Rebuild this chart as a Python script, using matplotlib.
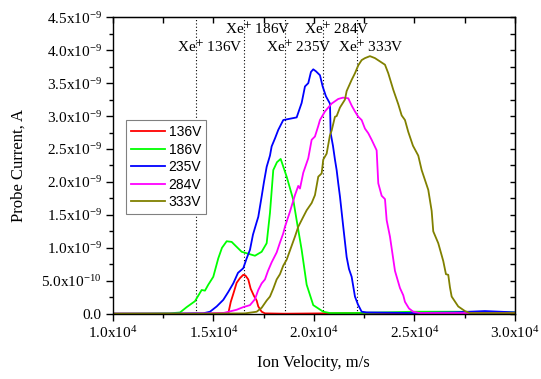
import numpy as np
import matplotlib
matplotlib.use("Agg")
import matplotlib.pyplot as plt

# Ion velocity (m/s) vs probe current (units of 1e-9 A)
v136 = [10000, 13000, 15000, 15750, 15870, 15994, 16163, 16327, 16491, 16600, 16739,
        16858, 17022, 17157, 17236, 17405, 17569, 18500, 20500, 21500, 22500, 23500, 30000]
i136 = [0, 0, 0.002, 0.01, 0.18, 0.30, 0.47, 0.54, 0.59, 0.58, 0.52,
        0.38, 0.27, 0.20, 0.11, 0.03, 0.005, 0, 0.005, 0.01, 0.01, 0, 0]

v186 = [10000, 11854, 12848, 13345, 13678, 14090, 14423, 14587, 14751, 15000, 15248,
        15432, 15666, 15914, 16078, 16411, 16739, 17072, 17405, 17654, 17818, 17982,
        18166, 18350, 18648, 18976, 19160, 19393, 19642, 19970, 20467, 20800, 22000,
        25000, 27000, 30000]
i186 = [0, 0.003, 0.006, 0.018, 0.10, 0.19, 0.36, 0.35, 0.44, 0.56, 0.84,
        1.00, 1.10, 1.09, 1.04, 0.94, 0.91, 0.88, 0.94, 1.07, 1.53, 2.18,
        2.30, 2.35, 2.08, 1.73, 1.39, 0.97, 0.44, 0.13, 0.03, 0.01, 0.01,
        0.03, 0.03, 0.02]

v235 = [10000, 13000, 14006, 14503, 14836, 15169, 15497, 15745, 15994, 16228, 16491,
        16660, 16824, 16973, 17157, 17237, 17405, 17520, 17654, 17818, 17902, 18066,
        18230, 18479, 18812, 19145, 19393, 19558, 19722, 19855, 19970, 20104, 20303,
        20437, 20601, 20800, 20835, 20949, 21048, 21133, 21212, 21297, 21461, 21630,
        21745, 21879, 22043, 22192, 22376, 22624, 25000, 27000, 28500, 30000]
i235 = [0, 0, 0.005, 0.006, 0.03, 0.11, 0.21, 0.33, 0.46, 0.62, 0.69,
        0.84, 0.97, 1.20, 1.39, 1.47, 1.78, 2.00, 2.23, 2.40, 2.54, 2.66,
        2.79, 2.94, 2.96, 2.98, 3.20, 3.45, 3.50, 3.67, 3.71, 3.68, 3.62,
        3.45, 3.30, 3.19, 2.74, 2.55, 2.34, 2.18, 1.98, 1.78, 1.32, 0.86,
        0.68, 0.56, 0.26, 0.14, 0.03, 0.02, 0.01, 0.02, 0.04, 0.02]

v284 = [10000, 14000, 15500, 16163, 16491, 16824, 17072, 17237, 17405, 17569, 17720,
        17902, 18151, 18315, 18479, 18564, 18812, 19060, 19224, 19309, 19473, 19722,
        19890, 20054, 20219, 20303, 20551, 20884, 21212, 21446, 21710, 21879, 22043,
        22207, 22376, 22540, 22704, 22873, 23121, 23202, 23371, 23535, 23619, 23783,
        24032, 24280, 24444, 24528, 24727, 24940, 25273, 30000]
i284 = [0, 0, 0.01, 0.06, 0.10, 0.13, 0.22, 0.36, 0.46, 0.52, 0.65,
        0.78, 0.93, 1.08, 1.22, 1.32, 1.55, 1.80, 1.94, 1.90, 2.14, 2.36,
        2.64, 2.69, 2.85, 2.94, 3.07, 3.19, 3.26, 3.28, 3.27, 3.16, 3.07,
        2.99, 2.94, 2.81, 2.74, 2.64, 2.48, 1.98, 1.79, 1.74, 1.42, 1.17,
        0.65, 0.39, 0.28, 0.18, 0.08, 0.03, 0.01, 0.01]

v333 = [10000, 14000, 16575, 17157, 17405, 17654, 17818, 17982, 18151, 18315, 18479,
        18648, 18812, 19060, 19224, 19473, 19642, 19890, 20054, 20219, 20388, 20467,
        20636, 20800, 20884, 21048, 21133, 21297, 21545, 21630, 21879, 22043, 22207,
        22376, 22540, 22788, 23037, 23286, 23535, 23699, 23947, 24196, 24365, 24529,
        24693, 24926, 25190, 25359, 25523, 25687, 25856, 25935, 26184, 26432, 26566,
        26681, 26765, 26850, 27177, 27510, 27759, 30000]
i333 = [0, 0, 0.005, 0.03, 0.09, 0.20, 0.26, 0.38, 0.52, 0.60, 0.73,
        0.82, 0.96, 1.17, 1.32, 1.47, 1.57, 1.68, 1.80, 2.08, 2.13, 2.34,
        2.43, 2.71, 2.78, 2.99, 3.00, 3.13, 3.25, 3.38, 3.55, 3.65, 3.77,
        3.85, 3.88, 3.91, 3.88, 3.83, 3.78, 3.65, 3.40, 3.18, 3.01, 2.94,
        2.76, 2.55, 2.40, 2.18, 2.03, 1.88, 1.56, 1.25, 1.07, 0.80, 0.60,
        0.59, 0.40, 0.26, 0.11, 0.04, 0.01, 0.01]

series_labels = ["136V", "186V", "235V", "284V", "333V"]
series_colors = ["#ff0000", "#00ff00", "#0000ff", "#ff00ff", "#808000"]

# Xe+ velocity for each beam voltage (dotted markers)
marker_velocity = [14140, 16540, 18590, 20430, 22120]
marker_row = [0, 1, 0, 1, 0]          # 0 = lower label row, 1 = upper

xticks = [10000, 15000, 20000, 25000, 30000]
xtick_labels = [r"$\mathregular{1.0x10^{4}}$", r"$\mathregular{1.5x10^{4}}$",
                r"$\mathregular{2.0x10^{4}}$", r"$\mathregular{2.5x10^{4}}$",
                r"$\mathregular{3.0x10^{4}}$"]
yticks = [0, 0.5, 1.0, 1.5, 2.0, 2.5, 3.0, 3.5, 4.0, 4.5]
ytick_labels = ["0.0", r"$\mathregular{5.0x10^{-10}}$", r"$\mathregular{1.0x10^{-9}}$",
                r"$\mathregular{1.5x10^{-9}}$", r"$\mathregular{2.0x10^{-9}}$",
                r"$\mathregular{2.5x10^{-9}}$", r"$\mathregular{3.0x10^{-9}}$",
                r"$\mathregular{3.5x10^{-9}}$", r"$\mathregular{4.0x10^{-9}}$",
                r"$\mathregular{4.5x10^{-9}}$"]

plt.rcParams["font.family"] = "Liberation Serif"
plt.rcParams["mathtext.fontset"] = "stix"

fig = plt.figure(figsize=(5.41, 3.79), dpi=100)
ax = fig.add_axes([0.2083, 0.1723, 0.7437, 0.7821])

for v, cur, col, lab in zip([v136, v186, v235, v284, v333],
                            [i136, i186, i235, i284, i333],
                            series_colors, series_labels):
    ax.plot(v, np.array(cur), color=col, lw=1.3, label=lab)

for vel, row, lab in zip(marker_velocity, marker_row, series_labels):
    ax.axvline(vel, color="black", ls=(0, (1, 2)), lw=0.8, zorder=1)
    ybase = 4.246 if row else 3.973
    ax.annotate(r"Xe$^{+}$ " + lab, xy=(vel, ybase), xytext=(-19, 0),
                textcoords="offset pixels", ha="left", va="baseline", fontsize=11)

ax.set_xlim(10000, 30000)
ax.set_ylim(0, 4.5)
ax.set_xticks(xticks)
ax.set_xticklabels(xtick_labels)
ax.set_xticks(np.arange(12500, 30000, 5000), minor=True)
ax.set_yticks(yticks)
ax.set_yticklabels(ytick_labels)
ax.set_yticks(np.arange(0.25, 4.5, 0.5), minor=True)
ax.tick_params(which="major", direction="out", length=5, width=1, labelsize=11, pad=3)
ax.tick_params(which="minor", direction="out", length=3, width=1)

top = ax.secondary_xaxis("top")
top.set_xticks(np.arange(10000, 30001, 2500))
top.set_xticklabels([])
top.tick_params(direction="in", length=4.5, width=1)
right = ax.secondary_yaxis("right")
right.set_yticks(np.arange(0, 4.51, 0.25))
right.set_yticklabels([])
right.tick_params(direction="in", length=3.5, width=1)

for sp in ax.spines.values():
    sp.set_linewidth(1.0)

ax.set_xlabel("Ion Velocity, m/s", fontsize=12)
ax.set_ylabel("Probe Current, A", fontsize=12)
ax.xaxis.set_label_coords(0.5, -0.14)
ax.yaxis.set_label_coords(-0.213, 0.5)

leg = ax.legend(loc="upper left", bbox_to_anchor=(0.034, 0.652), frameon=True,
                fancybox=False, edgecolor="#808080", framealpha=1,
                prop={"family": "Liberation Sans", "size": 10},
                handlelength=2.4, handletextpad=0.3, labelspacing=0.25,
                borderpad=0.35, borderaxespad=0)
leg.get_frame().set_linewidth(0.8)

fig.savefig("out.png", dpi=100)
